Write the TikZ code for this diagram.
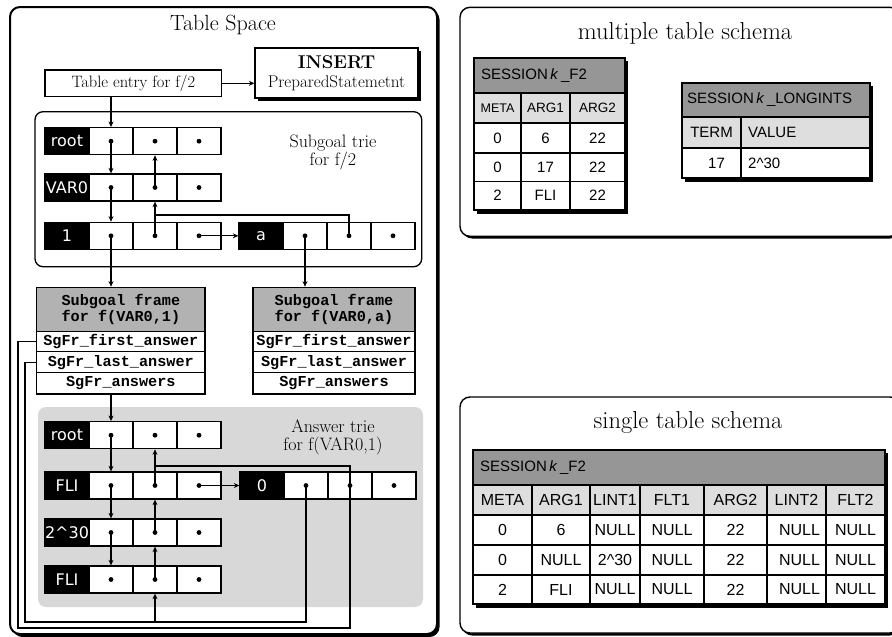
\documentclass[tikz,border=0pt]{standalone}
\usepackage{fontspec}
\newfontfamily\sansf{Liberation Sans}
\newfontfamily\vsans{DejaVu Sans}
\newfontfamily\monof{Liberation Mono}
\usetikzlibrary{arrows.meta,calc}
\definecolor{hdrgray}{RGB}{150,150,150}
\definecolor{colgray}{RGB}{222,222,222}
\definecolor{triebg}{RGB}{216,216,216}
\definecolor{framegray}{RGB}{178,178,178}
\tikzset{
  trl/.style={draw=black,fill=black,text=white,font=\vsans\fontsize{16}{17}\selectfont,minimum width=44pt,minimum height=27pt,inner sep=0pt,line width=1.3pt},
  trc/.style={draw=black,fill=white,minimum width=44pt,minimum height=27pt,inner sep=0pt,line width=1.3pt},
  ptr/.style={line width=1.3pt,-{Stealth[length=5.5pt,width=5pt]}},
  wire/.style={line width=1.3pt},
  fbox/.style={draw=black,fill=white,line width=1.3pt,inner sep=0pt},
  frow/.style={draw=black,fill=white,line width=1.3pt,inner sep=0pt,font=\monof\bfseries\fontsize{15.2}{15}\selectfont},
  fhead/.style={draw=black,fill=framegray,line width=1.3pt,inner sep=0pt,align=center,font=\monof\bfseries\fontsize{15.2}{15.5}\selectfont},
  tcell/.style={draw=black,line width=1.1pt,inner sep=0pt,fill=white,font=\sansf\fontsize{15}{17}\selectfont},
  ttext/.style={inner sep=0pt,font=\sansf\fontsize{15}{17}\selectfont},
  sboxtitle/.style={font=\fontsize{24.5}{26}\selectfont},
}
\newcommand\trierow[4]{%
  \node[trl] (#1-l) at (#2+22,#3+13.5) {#4};
  \node[trc] (#1-1) at (#2+66,#3+13.5) {};
  \node[trc] (#1-2) at (#2+110,#3+13.5) {};
  \node[trc] (#1-3) at (#2+154,#3+13.5) {};
  \fill (#1-1) circle (2.4pt);
  \fill (#1-2) circle (2.4pt);
  \fill (#1-3) circle (2.4pt);
}
% name x1 y1 x2 y2 opts text
\newcommand\tcellx[7]{%
  \node[tcell,#6,minimum width={(#4-#2)*1pt},minimum height={(#5-#3)*1pt}] (#1) at ({(#2+#4)/2},{(#3+#5)/2}) {#7};
}
\newcommand\sgframe[4]{% name x1 x2 arg
  \node[fhead,minimum width={(#3-#2)*1pt},minimum height=44.4pt] (#1-h) at ({(#2+#3)/2},309.5) {Subgoal frame\\for f(VAR0,#4)};
  \node[frow,minimum width={(#3-#2)*1pt},minimum height=20pt] (#1-a) at ({(#2+#3)/2},341.7) {SgFr\_first\_answer};
  \node[frow,minimum width={(#3-#2)*1pt},minimum height=21pt] (#1-b) at ({(#2+#3)/2},362.2) {SgFr\_last\_answer};
  \node[frow,minimum width={(#3-#2)*1pt},minimum height=21.3pt] (#1-c) at ({(#2+#3)/2},383.3) {SgFr\_answers};
}
\begin{document}
\begin{tikzpicture}[x=1pt,y=-1pt]
\useasboundingbox (0,0) rectangle (892,637);
\clip (0,0) rectangle (892,637);
% ---------------- Table space
\fill[black,rounded corners=10pt] (12.5,9.5) rectangle (439.5,637);
\node[draw=black,fill=white,line width=2pt,rounded corners=10pt,minimum width=427pt,minimum height=627pt,inner sep=0pt] (tspace) at (223.5,320.5) {};
\node[font=\fontsize{22}{24}\selectfont] (tstitle) at (223,25) {Table Space};
\node[fbox,minimum width=176.7pt,minimum height=26.7pt,font=\fontsize{16.5}{18}\selectfont] (entry) at (133.3,83.3) {Table entry for f/2};
\fill[black] (258,51) rectangle (421,101);
\node[fbox,minimum width=163pt,minimum height=50pt,align=center,font=\fontsize{17}{19}\selectfont] (insert) at (336.5,73) {{\bfseries\fontsize{18.5}{20}\selectfont INSERT}\\PreparedStatemetnt};
% subgoal trie
\node[draw=black,fill=white,line width=1.3pt,rounded corners=8pt,minimum width=386.7pt,minimum height=155pt,inner sep=0pt] (strie) at (228.35,189.2) {};
\node[align=center,font=\fontsize{18}{18}\selectfont] (sttext) at (333,152) {Subgoal trie\\for f/2};
\trierow{sr}{45}{127.7}{root}
\trierow{sv}{45}{174}{VAR0}
\trierow{so}{45}{222.3}{1}
\trierow{sa}{239}{222.3}{a}
% frames
\sgframe{fa}{36.7}{205}{1}
\sgframe{fb}{253}{415}{a}
% answer trie
\node[fill=triebg,rounded corners=8pt,minimum width=385pt,minimum height=200pt,inner sep=0pt] (atrie) at (230.5,507) {};
\node[align=center,font=\fontsize{18}{18}\selectfont] (attext) at (333,437) {Answer trie\\for f(VAR0,1)};
\trierow{ar}{45}{421.7}{root}
\trierow{af}{45}{472}{FLI}
\trierow{ae}{45}{519}{2\textasciicircum30}
\trierow{ag}{45}{566}{FLI}
\trierow{az}{240}{472}{0}
% connectors: top
\draw[ptr] (entry.east) -- (entry.east -| insert.west);
\draw[ptr] (entry.south -| sr-1) -- (sr-1.north);
\draw[ptr] (sr-1.center) -- (sv-1.north);
\draw[ptr] (sv-1.center) -- (so-1.north);
\draw[ptr] (sv-2.center) -- (sr-2.south);
\draw[ptr] (so-2.center) -- (sv-2.south);
\draw[ptr] (so-3.center) -- (sa-l.west);
\coordinate (jS) at (0,215);
\draw[wire] (sa-2.center) -- (sa-2 |- jS) -- (sv-2 |- jS);
\draw[ptr] (so-1.center) -- (so-1 |- fa-h.north);
\draw[ptr] (sa-1.center) -- (sa-1 |- fb-h.north);
% answer trie connectors
\draw[ptr] (fa-c.south -| ar-1) -- (ar-1.north);
\draw[ptr] (ar-1.center) -- (af-1.north);
\draw[ptr] (af-1.center) -- (ae-1.north);
\draw[ptr] (ae-1.center) -- (ag-1.north);
\draw[ptr] (af-2.center) -- (ar-2.south);
\draw[ptr] (ae-2.center) -- (af-2.south);
\draw[ptr] (ag-2.center) -- (ae-2.south);
\draw[ptr] (af-3.center) -- (az-l.west);
\coordinate (jA) at (0,466);
\draw[wire] (az-2.center) -- (az-2 |- jA) -- (af-2 |- jA);
% bottom wires
\coordinate (b1) at (25,622);
\coordinate (b2) at (18,628);
\draw[wire] (fa-b.west) -- (fa-b.west -| b1) -- (b1) -- (b1 -| az-1) -- (az-1.center);
\draw[ptr] (b1 -| ag-2) -- (ag-2.south);
\draw[wire] (fa-a.west) -- (fa-a.west -| b2) -- (b2) -- (b2 -| az-2) -- (az-2.center);
% ---------------- multiple table schema
\fill[black,rounded corners=10pt] (462,9.5) rectangle (900,238.5);
\node[draw=black,fill=white,line width=1.4pt,rounded corners=10pt,minimum width=440pt,minimum height=229pt,inner sep=0pt] (mbox) at (680,121.8) {};
\node[sboxtitle] (mtitle) at (685,33) {multiple table schema};
\fill[black] (477,61) rectangle (628,214);
\tcellx{mh}{474}{58}{625}{93}{fill=hdrgray}{}
\node[ttext,anchor=west] (mht) at (481,75.5) {SESSION\,\textit{k}\,\_F2};
\tcellx{mc1}{474}{93}{521}{123}{fill=colgray,font=\sansf\fontsize{12.5}{14}\selectfont}{META}
\tcellx{mc2}{521}{93}{570}{123}{fill=colgray,font=\sansf\fontsize{13.5}{14}\selectfont}{ARG1}
\tcellx{mc3}{570}{93}{625}{123}{fill=colgray,font=\sansf\fontsize{13.5}{14}\selectfont}{ARG2}
\tcellx{m11}{474}{123}{521}{153}{}{0}
\tcellx{m12}{521}{123}{570}{153}{}{6}
\tcellx{m13}{570}{123}{625}{153}{}{22}
\tcellx{m21}{474}{153}{521}{181.5}{}{0}
\tcellx{m22}{521}{153}{570}{181.5}{}{17}
\tcellx{m23}{570}{153}{625}{181.5}{}{22}
\tcellx{m31}{474}{181.5}{521}{210}{}{2}
\tcellx{m32}{521}{181.5}{570}{210}{}{FLI}
\tcellx{m33}{570}{181.5}{625}{210}{}{22}
% longints
\fill[black] (685,86) rectangle (873,182);
\tcellx{lh}{682}{83}{870}{117}{fill=hdrgray}{}
\node[ttext,anchor=west] (lht) at (687,100) {SESSION\,\textit{k}\,\_LONGINTS};
\tcellx{lc1}{682}{117}{741}{148}{fill=colgray}{TERM}
\tcellx{lc2}{741}{117}{870}{148}{fill=colgray}{}
\node[ttext,anchor=west] (lc2t) at (748,132.5) {VALUE};
\tcellx{l11}{682}{148}{741}{178}{}{\hspace*{10pt}17}
\tcellx{l12}{741}{148}{870}{178}{}{}
\node[ttext,anchor=west] (l12t) at (748,163) {2\textasciicircum30};
% ---------------- single table schema
\fill[black,rounded corners=10pt] (462,399.5) rectangle (900,635.5);
\node[draw=black,fill=white,line width=1.4pt,rounded corners=10pt,minimum width=440pt,minimum height=236pt,inner sep=0pt] (sbox) at (680,515) {};
\node[sboxtitle] (stitle) at (688,422) {single table schema};
\fill[black] (476,453) rectangle (888,608);
\tcellx{sh}{473}{450}{885}{485}{fill=hdrgray}{}
\node[ttext,anchor=west] (sht) at (480,467.5) {SESSION\,\textit{k}\,\_F2};
\tcellx{sc1}{473}{485}{532}{515}{fill=colgray,font=\sansf\fontsize{16}{17}\selectfont}{META}
\tcellx{sc2}{532}{485}{590}{515}{fill=colgray,font=\sansf\fontsize{16}{17}\selectfont}{ARG1}
\tcellx{sc3}{590}{485}{640}{515}{fill=colgray,font=\sansf\fontsize{16}{17}\selectfont}{LINT1}
\tcellx{sc4}{640}{485}{704}{515}{fill=colgray,font=\sansf\fontsize{16}{17}\selectfont}{FLT1}
\tcellx{sc5}{704}{485}{767}{515}{fill=colgray,font=\sansf\fontsize{16}{17}\selectfont}{ARG2}
\tcellx{sc6}{767}{485}{826}{515}{fill=colgray,font=\sansf\fontsize{16}{17}\selectfont}{LINT2}
\tcellx{sc7}{826}{485}{885}{515}{fill=colgray,font=\sansf\fontsize{16}{17}\selectfont}{FLT2}
\tcellx{s11}{473}{515}{532}{545}{font=\sansf\fontsize{16}{17}\selectfont}{0}
\tcellx{s12}{532}{515}{590}{545}{font=\sansf\fontsize{16}{17}\selectfont}{6}
\tcellx{s13}{590}{515}{640}{545}{font=\sansf\fontsize{16}{17}\selectfont}{NULL}
\tcellx{s14}{640}{515}{704}{545}{font=\sansf\fontsize{16}{17}\selectfont}{NULL}
\tcellx{s15}{704}{515}{767}{545}{font=\sansf\fontsize{16}{17}\selectfont}{22}
\tcellx{s16}{767}{515}{826}{545}{font=\sansf\fontsize{16}{17}\selectfont}{\hspace*{6pt}NULL}
\tcellx{s17}{826}{515}{885}{545}{font=\sansf\fontsize{16}{17}\selectfont}{NULL}
\tcellx{s21}{473}{545}{532}{575}{font=\sansf\fontsize{16}{17}\selectfont}{0}
\tcellx{s22}{532}{545}{590}{575}{font=\sansf\fontsize{16}{17}\selectfont}{NULL}
\tcellx{s23}{590}{545}{640}{575}{font=\sansf\fontsize{16}{17}\selectfont}{2\textasciicircum30}
\tcellx{s24}{640}{545}{704}{575}{font=\sansf\fontsize{16}{17}\selectfont}{NULL}
\tcellx{s25}{704}{545}{767}{575}{font=\sansf\fontsize{16}{17}\selectfont}{22}
\tcellx{s26}{767}{545}{826}{575}{font=\sansf\fontsize{16}{17}\selectfont}{\hspace*{6pt}NULL}
\tcellx{s27}{826}{545}{885}{575}{font=\sansf\fontsize{16}{17}\selectfont}{NULL}
\tcellx{s31}{473}{575}{532}{604}{font=\sansf\fontsize{16}{17}\selectfont}{2}
\tcellx{s32}{532}{575}{590}{604}{font=\sansf\fontsize{16}{17}\selectfont}{FLI}
\tcellx{s33}{590}{575}{640}{604}{font=\sansf\fontsize{16}{17}\selectfont}{NULL}
\tcellx{s34}{640}{575}{704}{604}{font=\sansf\fontsize{16}{17}\selectfont}{NULL}
\tcellx{s35}{704}{575}{767}{604}{font=\sansf\fontsize{16}{17}\selectfont}{22}
\tcellx{s36}{767}{575}{826}{604}{font=\sansf\fontsize{16}{17}\selectfont}{\hspace*{6pt}NULL}
\tcellx{s37}{826}{575}{885}{604}{font=\sansf\fontsize{16}{17}\selectfont}{NULL}
\end{tikzpicture}
\end{document}
